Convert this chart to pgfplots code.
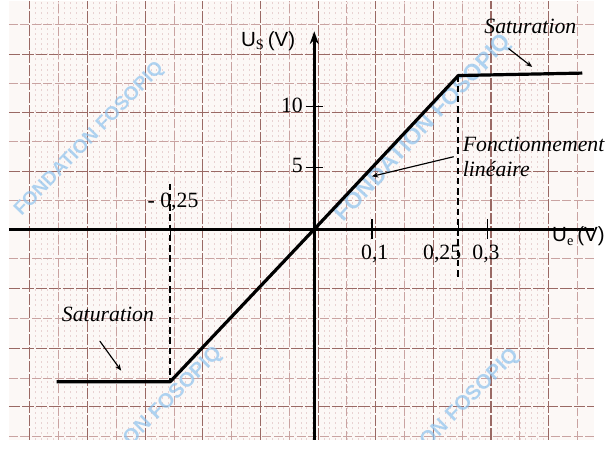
\documentclass[border=0pt]{standalone}
\usepackage{fontspec}
\setmainfont{Liberation Serif}
\setsansfont{Liberation Sans}
\usepackage{pgfplots}
\pgfplotsset{compat=1.18}
\usetikzlibrary{arrows.meta}
\definecolor{paper}{HTML}{FCF8F6}
\definecolor{gridmaj}{HTML}{9A6964}
\definecolor{gridmed}{HTML}{C9A3A1}
\definecolor{gridmin}{HTML}{E8D2D2}
\definecolor{wm}{HTML}{8EC3EE}
\begin{document}
\begin{tikzpicture}
\pgfplotsset{base/.style={scale only axis, width=456.75pt, height=342.75pt}}
% graph paper (pixel coordinates)
\begin{axis}[base, xmin=0, xmax=609, ymin=0, ymax=457,
  axis background/.style={fill=paper},
  axis line style={draw=none},
  xtick={22,82,...,562}, ytick={34,95,157,218,279,340,401},
  minor x tick num=9, minor y tick num=9,
  extra x ticks={52,112,...,592}, extra y ticks={3,64,126,188,249,310,371,432},
  extra tick style={grid=major, major grid style={gridmed, line width=0.7pt, dash pattern=on 7pt off 2pt}},
  xticklabels={}, yticklabels={}, extra x tick labels={}, extra y tick labels={},
  major tick length=0pt, minor tick length=0pt,
  grid=both,
  major grid style={gridmaj, line width=0.85pt, dash pattern=on 9pt off 1.5pt},
  minor grid style={gridmin, line width=0.4pt, dash pattern=on 1.5pt off 2.5pt}]
\end{axis}
% chart
\begin{axis}[base, xmin=-0.53, xmax=0.485, ymin=-17.1, ymax=18.6,
  axis lines=none, clip=false]
  % watermark
  \begin{scope}
  \clip (axis cs:-0.53,-17.1) rectangle (axis cs:0.485,18.6);
  \node[font=\fontsize{15}{17}\sffamily\bfseries, text=wm, opacity=0.7, rotate=46] at (axis cs:-0.39,7.3) {FONDATION FOSOPIQ};
  \node[font=\fontsize{18}{20}\sffamily\bfseries, text=wm, opacity=0.7, rotate=47] at (axis cs:0.19,8.2) {FONDATION FOSOPIQ};
  \node[font=\fontsize{16}{18}\sffamily\bfseries, text=wm, opacity=0.7, rotate=45] at (axis cs:-0.245,-13.6) {ON FOSOPIQ};
  \node[font=\fontsize{16}{18}\sffamily\bfseries, text=wm, opacity=0.7, rotate=45] at (axis cs:0.27,-13.8) {ON FOSOPIQ};
  \end{scope}
  % axes
  \draw[line width=2pt] (axis cs:-0.53,0) -- (axis cs:0.485,0);
  \draw[line width=2pt, -{Stealth[length=10pt,width=7pt]}] (axis cs:0,-17.1) -- (axis cs:0,16.1);
  % ticks
  \draw[line width=1pt] (axis cs:0.1,-0.8) -- (axis cs:0.1,0.8);
  \draw[line width=1pt] (axis cs:0.25,0) -- (axis cs:0.25,0.8);
  \draw[line width=1pt] (axis cs:0.3,-0.8) -- (axis cs:0.3,0.8);
  \draw[line width=1pt] (axis cs:-0.25,-0.8) -- (axis cs:-0.25,0);
  \draw[line width=1pt] (axis cs:-0.015,10) -- (axis cs:0.015,10);
  \draw[line width=1pt] (axis cs:-0.015,5) -- (axis cs:0.015,5);
  % transfer characteristic
  \addplot[black, line width=2.5pt, line join=round] coordinates {(-0.447,-12.4) (-0.25,-12.4) (0,0) (0.25,12.5) (0.465,12.7)};
  % dashed guides
  \addplot[black, line width=1.4pt, dash pattern=on 5pt off 3pt] coordinates {(0.25,12.5) (0.25,-4)};
  \addplot[black, line width=1.4pt, dash pattern=on 5pt off 3pt] coordinates {(-0.25,3.7) (-0.25,-12.4)};
  % labels
  \node[font=\fontsize{16}{18}\sffamily] at (axis cs:-0.08,15.3) {U$_{\mathrm{S}}$\,(V)};
  \node[font=\fontsize{16}{18}\sffamily, anchor=west] at (axis cs:0.405,-0.6) {U$_{\mathrm{e}}$\,(V)};
  \node[font=\fontsize{17}{19}\selectfont, anchor=east] at (axis cs:-0.012,10.1) {10};
  \node[font=\fontsize{17}{19}\selectfont, anchor=east] at (axis cs:-0.012,5.2) {5};
  \node[font=\fontsize{17}{19}\selectfont] at (axis cs:0.105,-2.0) {0,1};
  \node[font=\fontsize{17}{19}\selectfont] at (axis cs:0.222,-2.0) {0,25};
  \node[font=\fontsize{17}{19}\selectfont] at (axis cs:0.298,-2.0) {0,3};
  \node[font=\fontsize{17}{19}\selectfont] at (axis cs:-0.245,2.2) {- 0,25};
  % annotations
  \node[font=\fontsize{17}{19}\itshape] at (axis cs:0.375,16.5) {Saturation};
  \draw[line width=0.9pt, -{Stealth[length=5pt,width=4pt]}] (axis cs:0.337,14.7) -- (axis cs:0.378,13.2);
  \node[font=\fontsize{17}{19}\itshape, anchor=west] at (axis cs:0.25,6.9) {Fonctionnement};
  \node[font=\fontsize{17}{19}\itshape, anchor=west] at (axis cs:0.25,4.9) {linéaire};
  \draw[line width=0.9pt, -{Stealth[length=5pt,width=4pt]}] (axis cs:0.242,5.9) -- (axis cs:0.1,4.3);
  \node[font=\fontsize{17}{19}\itshape] at (axis cs:-0.358,-6.95) {Saturation};
  \draw[line width=0.9pt, -{Stealth[length=5pt,width=4pt]}] (axis cs:-0.372,-9.1) -- (axis cs:-0.335,-11.5);
\end{axis}
\end{tikzpicture}
\end{document}
